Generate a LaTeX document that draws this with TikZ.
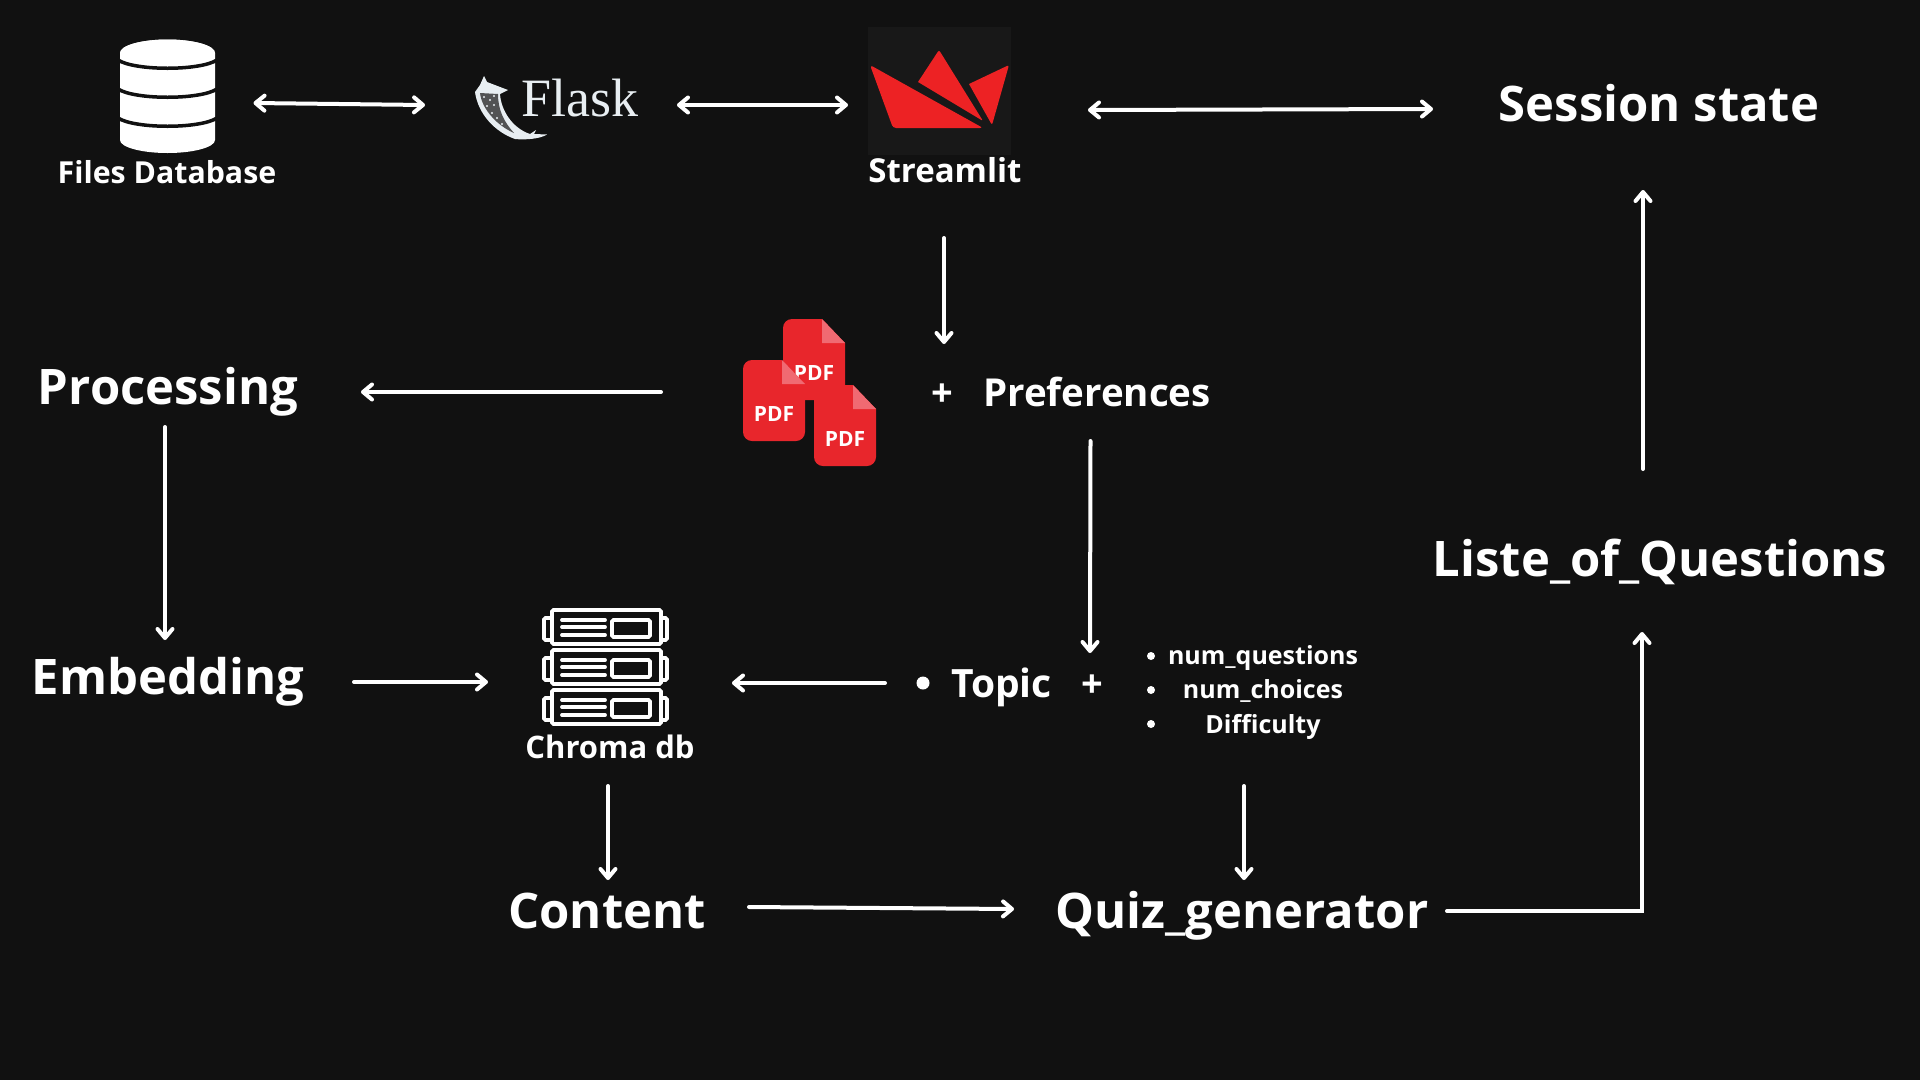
\documentclass[tikz,border=0pt]{standalone}
\usepackage{fontspec}
\setmainfont{Open Sans}
\newfontfamily\flaskfont{Liberation Serif}
\usetikzlibrary{arrows.meta}
\definecolor{backdrop}{HTML}{111111}
\definecolor{logored}{HTML}{ED2224}
\definecolor{pdfred}{HTML}{E8262C}
\definecolor{pdffold}{HTML}{F06A72}
\definecolor{hornwhite}{HTML}{E8EEF2}
\tikzset{
  label/.style={text=white, inner sep=0pt, anchor=base, font=\bfseries\fontsize{#1}{#1}\selectfont},
  icon/.style={inner sep=0pt, minimum width=#1},
  oneway/.style={draw=white, line width=4pt, line cap=round, -{Straight Barb[round,length=9pt,width=15pt]}},
  twoway/.style={oneway, {Straight Barb[round,length=9pt,width=15pt]}-{Straight Barb[round,length=9pt,width=15pt]}},
  rackline/.style={draw=white, line width=3.8pt, line cap=round, rounded corners=1.5pt},
  pdfsheet/.pic={
    \fill[pdfred, rounded corners=9pt] (31,81) -- (0,81) -- (0,0) [sharp corners] -- (39,0) -- (62,24) [rounded corners=9pt] -- (62,81) -- cycle;
    \fill[pdffold] (39,0) -- (62,24) -- (39,24) -- cycle;
    \node (word) at (31,54) [text=white, inner sep=0pt, font=\bfseries\fontsize{21}{21}\selectfont] {PDF};
  }
}
\begin{document}
\begin{tikzpicture}[x=1pt, y=-1pt]
\useasboundingbox (0,0) rectangle (1920,1079.7);
\fill[backdrop] (0,0) rectangle (1920,1080);

% top row
\node (dbicon) at (167,96) [icon=96pt] {};
\fill[white] (120,53) arc[x radius=47.5, y radius=13.5, start angle=180, end angle=360] -- (215,140)
  arc[x radius=47.5, y radius=13, start angle=0, end angle=180] -- cycle;
\fill[white] (167.5,53) ellipse[x radius=47.5, y radius=13.5];
\foreach \level in {60,89,118}
  \draw[backdrop, line width=3.5pt] (118,\level) .. controls (135,\level+11) and (200,\level+11) .. (217,\level);
\node (files) at (167,183) [label=30.3] {Files Database};

% horn of the flask
\fill[hornwhite] (484,76) -- (487,82) -- (508,90) -- (500,94) .. controls (501,110) and (512,128) .. (530,134)
  -- (536,130) -- (534,134) -- (547,134.5) .. controls (540,139) and (525,140) .. (515,139)
  .. controls (495,132) and (478,114) .. (475,92) -- (480,85) -- cycle;
\fill[backdrop!70!hornwhite] (480,93) -- (498,94) .. controls (498,110) and (504,122) .. (514,133)
  .. controls (498,126) and (482,110) .. (480,93) -- cycle;
\foreach \sx/\sy in {484/97,490/100,494/105,487/106,492/113,497/118,502/124,494/96}
  \fill[hornwhite] (\sx,\sy) circle[radius=1.1];
\node (flask) at (580,116) [text=hornwhite, inner sep=0pt, anchor=base, font=\flaskfont\fontsize{54}{54}\selectfont] {Flask};

\fill[white!3!backdrop] (868,27) rectangle (1011,155);
\fill[logored, rounded corners=3pt] (870,65) -- (983,128) -- (893,128) -- cycle;
\fill[logored, rounded corners=2pt] (918,82) -- (939,50) -- (983,121) [sharp corners] -- cycle;
\fill[logored, rounded corners=2pt] (969,84) -- (1009,65) -- (992,125) [sharp corners] -- cycle;
\node (logo) at (940,91) [icon=143pt] {};
\node (streamlit) at (945,182) [label=33] {Streamlit};
\node (session) at (1659,121) [label=49] {Session state};

% middle row
\node (processing) at (168,404) [label=49] {Processing};
\pic (back) at (783,319) {pdfsheet};
\pic (left) at (743,360) {pdfsheet};
\pic (right) at (814,385) {pdfsheet};
\node (pdfs) at (809,392) [icon=132pt] {};
\node (plusa) at (942,406) [label=38] {+};
\node (prefs) at (1097,406) [label=38.5] {Preferences};
\node (liste) at (1660,576) [label=49] {Liste\_of\_Questions};

% chroma row
\node (embedding) at (168,694) [label=49] {Embedding};
\foreach \top in {610,650,690} {
  \draw[rackline] (552,\top) rectangle (661,\top+34);
  \draw[rackline] (552,\top+8) -- (544,\top+8) -- (544,\top+30) -- (552,\top+30);
  \draw[rackline] (661,\top+8) -- (667,\top+8) -- (667,\top+30) -- (661,\top+30);
  \draw[rackline] (562,\top+10) -- (605,\top+10);
  \draw[rackline] (562,\top+17) -- (605,\top+17);
  \draw[rackline] (562,\top+25) -- (605,\top+25);
  \draw[rackline] (612,\top+10) rectangle (650,\top+27);
}
\node (racks) at (605.5,667) [icon=125pt] {};
\node (chroma) at (610,758) [label=31] {Chroma db};
\fill[white] (923,683) circle[radius=6.5];
\node (topic) at (1001.5,697) [label=39] {Topic};
\node (plusb) at (1092,697) [label=38] {+};
\foreach \row/\y in {1/656,2/690,3/724}
  \fill[white] (1151,\y) circle[radius=4];
\node (numq) at (1263,664) [label=25] {num\_questions};
\node (numc) at (1263,698) [label=25] {num\_choices};
\node (diff) at (1263,733) [label=25] {Difficulty};

% bottom row
\node (content) at (607,928) [label=49] {Content};
\node (quiz) at (1242,928) [label=49] {Quiz\_generator};

% connectors
\draw[twoway] ([shift={(86.5,7)}]dbicon.center) -- ([shift={(-155,-11)}]flask.base);
\draw[twoway] ([shift={(97,-11)}]flask.base) -- ([shift={(-92,14)}]logo.center);
\draw[twoway] ([shift={(148,19)}]logo.center) -- ([shift={(-226,-12)}]session.base);
\draw[oneway] ([shift={(4,147)}]logo.center) -- ([shift={(4,253)}]logo.center);
\draw[oneway] ([shift={(-148,0)}]pdfs.center) -- ([shift={(193,-12)}]processing.base);
\draw[oneway] ([shift={(-3,23)}]processing.base) -- ([shift={(-3,-54)}]embedding.base);
\draw[oneway] ([shift={(-6.5,35)}]prefs.base) -- ([shift={(-2,-44)}]topic.base -| plusb.base);
\draw[oneway] ([shift={(186,-12)}]embedding.base) -- ([shift={(-117.5,15)}]racks.center);
\draw[oneway] ([shift={(-116.5,-14)}]topic.base) -- ([shift={(126.5,16)}]racks.center);
\draw[oneway] ([shift={(-2,28)}]chroma.base) -- ([shift={(1,-48)}]content.base);
\draw[oneway] ([shift={(-19,53)}]diff.base) -- ([shift={(2,-48)}]quiz.base);
\draw[oneway] ([shift={(142,-21)}]content.base) -- ([shift={(-228,-19)}]quiz.base);
\draw[oneway] ([shift={(205,-17)}]quiz.base) -| ([shift={(-18,56)}]liste.base);
\draw[oneway] ([shift={(-17,-107)}]liste.base) -- ([shift={(-16,69)}]session.base);
\end{tikzpicture}
\end{document}
